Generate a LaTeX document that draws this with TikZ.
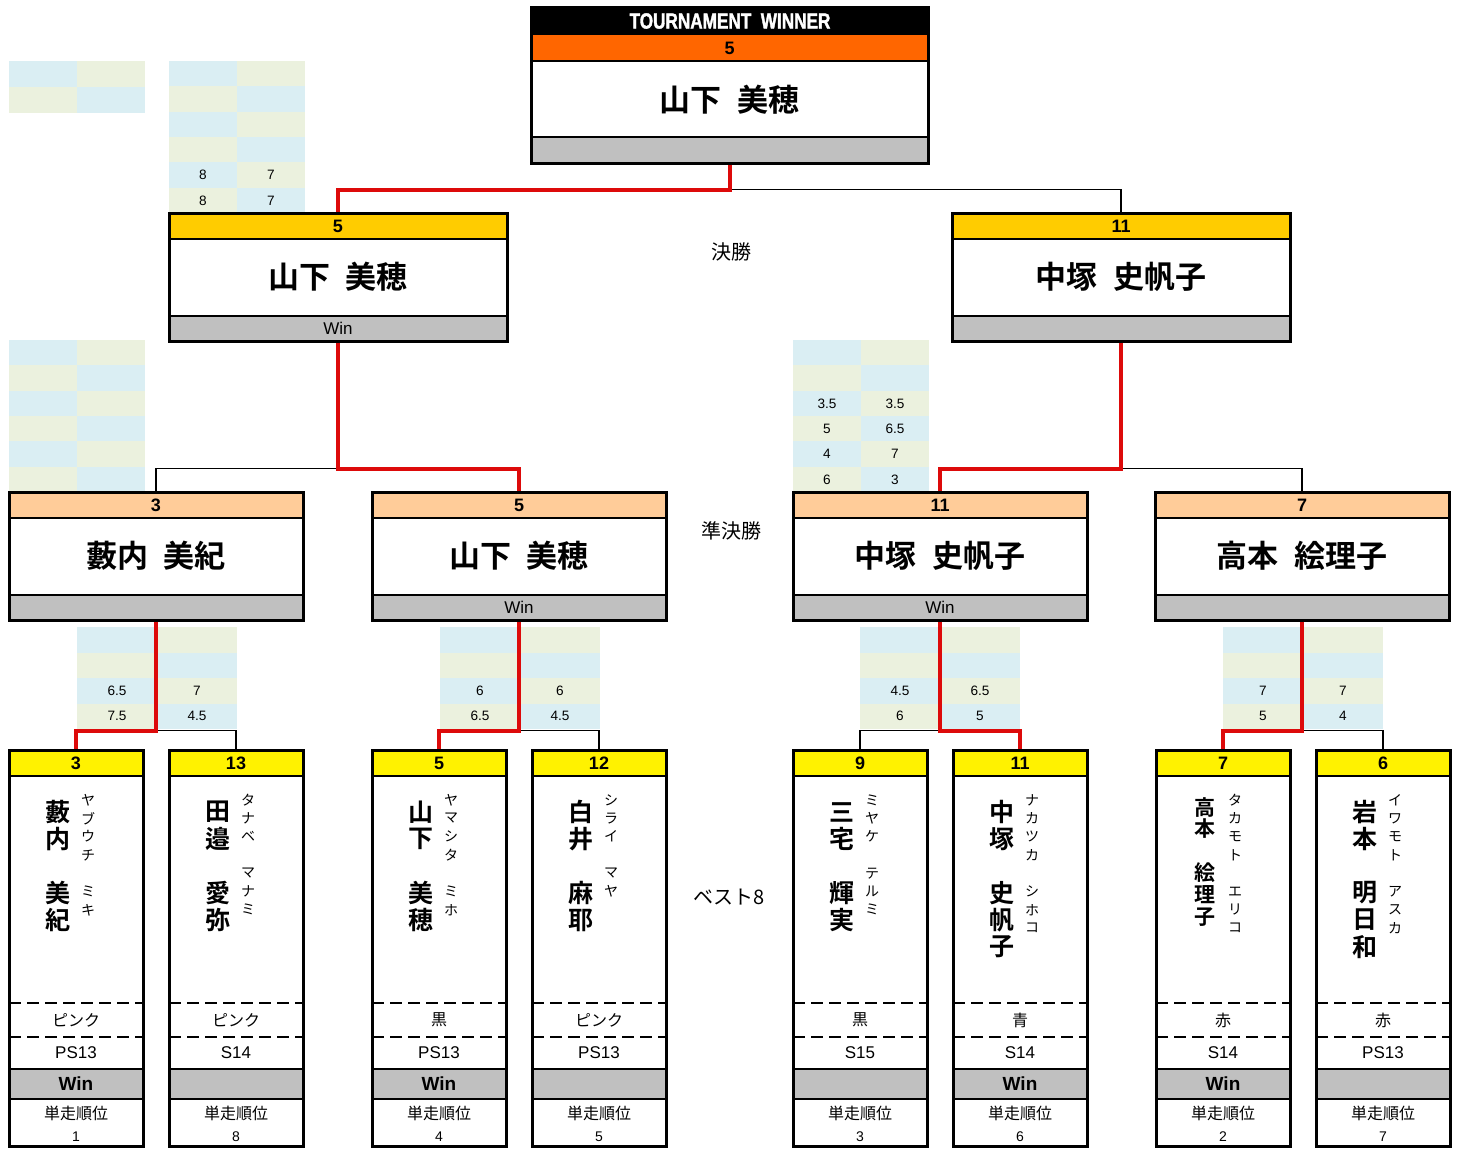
\documentclass[tikz,border=0pt]{standalone}
\usepackage{fontspec}
\setmainfont{Liberation Sans}
\newfontfamily\jp[BoldFont={Noto Sans CJK JP Bold}]{Noto Sans CJK JP}
\newfontfamily\titlefont[FakeStretch=0.78,FakeBold=1.5]{Liberation Sans Bold}
\usetikzlibrary{calc}

\definecolor{cellblue}{HTML}{DAEEF3}
\definecolor{cellgreen}{HTML}{EBF1DE}
\definecolor{bandorange}{HTML}{FF6600}
\definecolor{bandgold}{HTML}{FFCC00}
\definecolor{bandpeach}{HTML}{FFCC99}
\definecolor{bandyellow}{HTML}{FFF200}
\definecolor{wingray}{HTML}{C0C0C0}
\definecolor{winred}{HTML}{DD0A0A}

\tikzset{
  frame/.style={draw=black, line width=1.5pt, fill=none, inner sep=0pt},
  thinrule/.style={draw=black, line width=0.8pt},
  thickrule/.style={draw=black, line width=1.3pt},
  dashrule/.style={draw=black, line width=0.8pt, dash pattern=on 6pt off 3pt},
  winline/.style={draw=winred, line width=2pt},
  loseline/.style={draw=black, line width=0.7pt},
  numtext/.style={inner sep=0pt, font=\bfseries\fontsize{9}{10}\selectfont},
  nametext/.style={inner sep=0pt, font=\jp\bfseries\fontsize{15.5}{16}\selectfont},
  titletext/.style={inner sep=0pt, text=white, font=\titlefont\fontsize{11}{12}\selectfont},
  midwin/.style={inner sep=0pt, font=\fontsize{8.5}{9}\selectfont},
  wintext/.style={inner sep=0pt, font=\bfseries\fontsize{9.5}{10}\selectfont},
  kanjitext/.style={inner sep=0pt, font=\jp\bfseries\kanjisize},
  kanatext/.style={inner sep=0pt, font=\jp\fontsize{7}{7}\selectfont},
  smalljp/.style={inner sep=0pt, font=\jp\fontsize{8}{9}\selectfont},
  smalltext/.style={inner sep=0pt, font=\fontsize{8.5}{9}\selectfont},
  ranktext/.style={inner sep=0pt, font=\fontsize{7}{8}\selectfont},
  celltext/.style={inner sep=0pt, font=\fontsize{6.8}{7}\selectfont},
  roundtext/.style={inner sep=0pt, font=\jp\fontsize{10}{11}\selectfont}
}

\newcommand\kanjisize{\fontsize{12.5}{13}\selectfont}
\newcommand\kanjitop{62}
\newcommand\kanjistep{27}
\newcommand\gap{\hspace{0.5em}}

% score table: left x, top y, column width, row height, rows a/b, name
\newcommand\scoretab[6]{%
  \foreach \a/\b [count=\i from 0] in {#5} {
    \ifodd\i \def\ca{cellgreen}\def\cb{cellblue}\else\def\ca{cellblue}\def\cb{cellgreen}\fi
    \fill[\ca] (#1,#2+\i*#4) rectangle (#1+#3,#2+\i*#4+#4);
    \fill[\cb] (#1+#3,#2+\i*#4) rectangle (#1+2*#3,#2+\i*#4+#4);
    \node[celltext] (#6a\i) at (#1+#3/2,#2+\i*#4+#4/2) {\a};
    \node[celltext] (#6b\i) at (#1+1.5*#3,#2+\i*#4+#4/2) {\b};
  }}

% final / semifinal box: name, left x, top y, width, band colour, number, player, win
\newcommand\midbox[8]{%
  \begin{scope}[shift={(#2,#3)}]
    \fill[#5] (0,0) rectangle (#4,26);
    \fill[wingray] (0,103) rectangle (#4,128);
    \draw[thinrule] (0,26) -- (#4,26);
    \draw[thinrule] (0,103) -- (#4,103);
    \node[numtext] (#1n) at ({#4/2},13) {#6};
    \node[nametext] (#1t) at ({#4/2},64) {#7};
    \node[midwin] (#1w) at ({#4/2},115.5) {#8};
    \node[frame, minimum width=#4*0.5pt, minimum height=64pt] (#1) at ({#4/2},64) {};
  \end{scope}}

% best 8 box: name, left x, number, kanji, kana, colour, class, win, rank
\newcommand\qfbox[9]{%
  \begin{scope}[shift={(#2,750)}]
    \fill[bandyellow] (0,0) rectangle (134,26);
    \fill[wingray] (0,319) rectangle (134,349);
    \draw[thinrule] (0,26) -- (134,26);
    \draw[dashrule] (0,253) -- (134,253);
    \draw[dashrule] (0,287) -- (134,287);
    \draw[thickrule] (0,319) -- (134,319);
    \draw[thickrule] (0,349) -- (134,349);
    \node[numtext] (#1n) at (67,13) {#3};
    \foreach \c [count=\i from 0] in {#4}
      \node[kanjitext] (#1k\i) at (49,\kanjitop+\i*\kanjistep) {\c};
    \foreach \c [count=\i from 0] in {#5}
      \node[kanatext] (#1r\i) at (79,50+\i*18.3) {\c};
    \node[smalljp] (#1c) at (67,270) {#6};
    \node[smalltext] (#1s) at (67,303) {#7};
    \node[wintext] (#1w) at (67,334) {#8};
    \node[smalljp] (#1h) at (67,363) {単走順位};
    \node[ranktext] (#1p) at (67,387) {#9};
    \node[frame, minimum width=67pt, minimum height=198pt] (#1) at (67,198) {};
  \end{scope}}

\begin{document}
\begin{tikzpicture}[x=0.5pt, y=-0.5pt]
  \useasboundingbox (0,0) rectangle (1460,1148);
  \fill[white] (0,0) rectangle (1460,1148);

  % score tables
  \scoretab{9}{61}{68}{26}{{}/{},{}/{}}{ta}
  \scoretab{169}{61}{68}{25.33}{{}/{},{}/{},{}/{},{}/{},8/7,8/7}{tb}
  \scoretab{9}{340}{68}{25.33}{{}/{},{}/{},{}/{},{}/{},{}/{},{}/{}}{tc}
  \scoretab{793}{340}{68}{25.33}{{}/{},{}/{},3.5/3.5,5/6.5,4/7,6/3}{td}
  \scoretab{77}{627}{80}{25.5}{{}/{},{}/{},6.5/7,7.5/4.5}{te}
  \scoretab{440}{627}{80}{25.5}{{}/{},{}/{},6/6,6.5/4.5}{tf}
  \scoretab{860}{627}{80}{25.5}{{}/{},{}/{},4.5/6.5,6/5}{tg}
  \scoretab{1223}{627}{80}{25.5}{{}/{},{}/{},7/7,5/4}{th}

  % winner
  \fill[black] (531,7) rectangle (928,35);
  \fill[bandorange] (531,35) rectangle (928,61);
  \fill[wingray] (531,137) rectangle (928,163);
  \draw[thinrule] (531,61) -- (928,61);
  \draw[thinrule] (531,137) -- (928,137);
  \node[titletext] (wint) at (730,21) {TOURNAMENT\ \ WINNER};
  \node[numtext] (winn) at (729.5,48) {5};
  \node[nametext] (winm) at (729.5,100) {山下\gap 美穂};
  \node[frame, minimum width=198.5pt, minimum height=78pt] (win) at (729.5,85) {};

  % final and semifinal
  \midbox{f1}{169}{213}{338}{bandgold}{5}{山下\gap 美穂}{Win}
  \midbox{f2}{952}{213}{338}{bandgold}{11}{中塚\gap 史帆子}{}
  \midbox{s1}{9}{492}{294}{bandpeach}{3}{藪内\gap 美紀}{}
  \midbox{s2}{372}{492}{294}{bandpeach}{5}{山下\gap 美穂}{Win}
  \midbox{s3}{793}{492}{294}{bandpeach}{11}{中塚\gap 史帆子}{Win}
  \midbox{s4}{1155}{492}{294}{bandpeach}{7}{高本\gap 絵理子}{}

  % best 8
  \qfbox{q1}{9}{3}{藪,内,{},美,紀}{ヤ,ブ,ウ,チ,{},ミ,キ}{ピンク}{PS13}{Win}{1}
  \qfbox{q2}{169}{13}{田,邉,{},愛,弥}{タ,ナ,ベ,{},マ,ナ,ミ}{ピンク}{S14}{}{8}
  \qfbox{q3}{372}{5}{山,下,{},美,穂}{ヤ,マ,シ,タ,{},ミ,ホ}{黒}{PS13}{Win}{4}
  \qfbox{q4}{532}{12}{白,井,{},麻,耶}{シ,ラ,イ,{},マ,ヤ}{ピンク}{PS13}{}{5}
  \qfbox{q5}{793}{9}{三,宅,{},輝,実}{ミ,ヤ,ケ,{},テ,ル,ミ}{黒}{S15}{}{3}
  \qfbox{q6}{953}{11}{中,塚,{},史,帆,子}{ナ,カ,ツ,カ,{},シ,ホ,コ}{青}{S14}{Win}{6}
  \renewcommand\kanjisize{\fontsize{10.5}{11}\selectfont}
  \renewcommand\kanjitop{57}
  \renewcommand\kanjistep{22}
  \qfbox{q7}{1156}{7}{高,本,{},絵,理,子}{タ,カ,モ,ト,{},エ,リ,コ}{赤}{S14}{Win}{2}
  \renewcommand\kanjisize{\fontsize{12.5}{13}\selectfont}
  \renewcommand\kanjitop{62}
  \renewcommand\kanjistep{27}
  \qfbox{q8}{1316}{6}{岩,本,{},明,日,和}{イ,ワ,モ,ト,{},ア,ス,カ}{赤}{PS13}{}{7}

  % round labels
  \node[roundtext] (lfinal) at (731,252) {決勝};
  \node[roundtext] (lsemi) at (731,531) {準決勝};
  \node[roundtext] (lbest) at (729,897) {ベスト8};

  % connectors
  \draw[loseline] (win.south) ++(0,25) -| (f2.north);
  \draw[winline] (win.south) -- ++(0,25) -| (f1.north);
  \draw[loseline] (f1.south) ++(0,126) -| (s1.north);
  \draw[winline] (f1.south) -- ++(0,126) -| (s2.north);
  \draw[loseline] (f2.south) ++(0,126) -| (s4.north);
  \draw[winline] (f2.south) -- ++(0,126) -| (s3.north);
  \draw[loseline] (s1.south) ++(0,109) -| (q2.north);
  \draw[winline] (s1.south) -- ++(0,109) -| (q1.north);
  \draw[loseline] (s2.south) ++(0,109) -| (q4.north);
  \draw[winline] (s2.south) -- ++(0,109) -| (q3.north);
  \draw[loseline] (s3.south) ++(0,109) -| (q5.north);
  \draw[winline] (s3.south) -- ++(0,109) -| (q6.north);
  \draw[loseline] (s4.south) ++(0,109) -| (q8.north);
  \draw[winline] (s4.south) -- ++(0,109) -| (q7.north);
\end{tikzpicture}
\end{document}
